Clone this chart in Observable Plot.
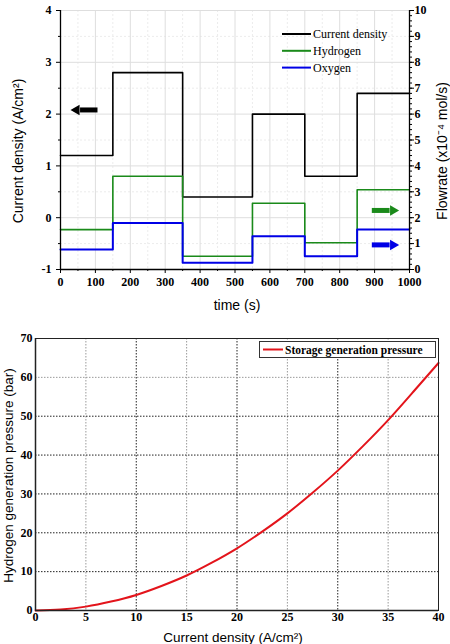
<!DOCTYPE html>
<html>
<head>
<meta charset="utf-8">
<script src="https://cdn.jsdelivr.net/npm/d3@7"></script>
<script src="https://cdn.jsdelivr.net/npm/@observablehq/plot@0.6"></script>
<style>
  body { margin: 0; background: #fff; }
  #page { position: relative; width: 450px; height: 644px; overflow: hidden; background: #fff; }
  #page > svg, #page > figure { position: absolute; left: 0; margin: 0; }
  .lg { position: absolute; }
</style>
</head>
<body>
<div id="page"></div>
<script>
// ---- Operating schedule: step changes of current density and gas flowrates ----
const stepTimes = [0, 150, 350, 550, 700, 850, 1000];        // s
const currentDensity = [1.2, 2.8, 0.4, 2.0, 0.8, 2.4];       // A/cm², left axis
const hydrogenFlow = [1.54, 3.6, 0.51, 2.56, 1.03, 3.08];    // x10^-4 mol/s, right axis
const oxygenFlow = [0.77, 1.8, 0.26, 1.28, 0.51, 1.54];      // x10^-4 mol/s, right axis

const timeTicks = [0, 100, 200, 300, 400, 500, 600, 700, 800, 900, 1000];
const timeMinorTicks = [50, 150, 250, 350, 450, 550, 650, 750, 850, 950];
const currentTicks = [-1, 0, 1, 2, 3, 4];
const currentMinorTicks = [-0.5, 0.5, 1.5, 2.5, 3.5];
const flowTicks = [0, 1, 2, 3, 4, 5, 6, 7, 8, 9, 10];

// Axis hint arrows: which axis each group of curves is read against
const hintArrows = [
  {series: "Current density", tail: 106, tip: 37, level: 2.08, axis: "left", color: "#000"},
  {series: "Hydrogen", tail: 892, tip: 962, level: 2.28, axis: "right", color: "#1a8a1a"},
  {series: "Oxygen", tail: 892, tip: 962, level: 0.95, axis: "right", color: "#0000e6"}
];

// ---- Storage pressure versus current density ----
const pressureCurrent = [0, 2.5, 5, 7.5, 10, 12.5, 15, 17.5, 20, 22.5, 25, 27.5, 30, 32.5, 35, 37.5, 40];
const pressureBar = [0, 0.25, 1.0, 2.3, 4.0, 6.3, 9.0, 12.3, 16.0, 20.3, 25.0, 30.3, 36.0, 42.3, 49.0, 56.3, 63.7];
const pressureTicksX = [0, 5, 10, 15, 20, 25, 30, 35, 40];
const pressureTicksY = [0, 10, 20, 30, 40, 50, 60, 70];

// The right-hand flowrate axis (0–10) shares the left scale (−1–4)
const flowToLeft = f => -1 + f / 2;
const leftToFlow = v => String(Math.round((v + 1) * 2));
const plain = d => String(d);

const steps = (values) => stepTimes.map((t, i) => ({t, v: values[Math.min(i, values.length - 1)]}));
const currentRows = steps(currentDensity);
const hydrogenRows = steps(hydrogenFlow).map(d => ({t: d.t, v: flowToLeft(d.v)}));
const oxygenRows = steps(oxygenFlow).map(d => ({t: d.t, v: flowToLeft(d.v)}));

const arrowRows = hintArrows.map(a => {
  const y = a.axis === "left" ? a.level : flowToLeft(a.level);
  const dir = Math.sign(a.tip - a.tail);
  return {...a, y, neck: a.tip - dir * 19, headAt: a.tip - dir * 9, rot: dir > 0 ? 90 : -90};
});

const serif = '"Liberation Serif", "Times New Roman", serif';
const sans = '"Liberation Sans", Arial, sans-serif';
const titleFont = {fontFamily: sans, fontWeight: "normal", textAnchor: "middle", lineAnchor: "middle"};

const page = document.getElementById("page");

// Bold serif numerals on every axis tick label
function serifTicks(svg, size) {
  d3.select(svg).selectAll('g[aria-label$="tick label"] text')
    .style("font-family", serif)
    .style("font-weight", "bold")
    .style("font-size", size + "px");
}

const topChart = Plot.plot({
  width: 450,
  height: 320,
  marginLeft: 60,
  marginRight: 41,
  marginTop: 10,
  marginBottom: 51,
  x: {domain: [0, 1000]},
  y: {domain: [-1, 4]},
  style: {color: "#000", background: "transparent", overflow: "visible"},
  marks: [
    Plot.gridX(timeMinorTicks, {stroke: "#ececec", strokeOpacity: 1, strokeDasharray: "2,2"}),
    Plot.gridY(currentMinorTicks, {stroke: "#ececec", strokeOpacity: 1, strokeDasharray: "2,2"}),
    Plot.gridX(timeTicks, {stroke: "#dedede", strokeOpacity: 1}),
    Plot.gridY(currentTicks, {stroke: "#dedede", strokeOpacity: 1}),
    Plot.line(currentRows, {x: "t", y: "v", curve: "step-after", stroke: "#000", strokeWidth: 1.6}),
    Plot.line(hydrogenRows, {x: "t", y: "v", curve: "step-after", stroke: "#1a8a1a", strokeWidth: 1.6}),
    Plot.line(oxygenRows, {x: "t", y: "v", curve: "step-after", stroke: "#0000e6", strokeWidth: 2}),
    Plot.link(arrowRows, {x1: "tail", x2: "neck", y1: "y", y2: "y", stroke: "color", strokeWidth: 5}),
    Plot.dot(arrowRows, {x: "headAt", y: "y", symbol: "triangle2", r: 5, fill: "color", stroke: null, rotate: "rot"}),
    Plot.ruleX([0], {stroke: "#000", strokeWidth: 1.3}),
    Plot.ruleX([1000], {stroke: "#000", strokeWidth: 1.3}),
    Plot.ruleY([-1], {stroke: "#000", strokeWidth: 1.3}),
    Plot.axisX(timeTicks, {tickSize: 4, tickPadding: 4, tickFormat: plain, label: null}),
    Plot.axisX(timeMinorTicks, {tickSize: 2, tickFormat: () => "", label: null}),
    Plot.axisY(currentTicks, {anchor: "left", tickSize: 4, tickPadding: 5, tickFormat: plain, label: null}),
    Plot.axisY(currentMinorTicks, {anchor: "left", tickSize: 2, tickFormat: () => "", label: null}),
    Plot.axisY(flowTicks.map(flowToLeft), {anchor: "right", tickSize: 4, tickPadding: 1, tickFormat: leftToFlow, label: null}),
    Plot.axisY(d3.range(0, 10.01, 0.2).map(flowToLeft), {anchor: "right", tickSize: 2, tickFormat: () => "", label: null}),
    Plot.text(["Current density (A/cm²)"], {frameAnchor: "left", dx: -42, dy: 11, rotate: -90, fontSize: 14, ...titleFont}),
    Plot.text(["Flowrate (x10⁻⁴ mol/s)"], {frameAnchor: "right", dx: 33, dy: 11, rotate: -90, fontSize: 14, ...titleFont}),
    Plot.text(["time (s)"], {frameAnchor: "bottom", dx: 2, dy: 36, fontSize: 14, ...titleFont})
  ]
});
topChart.style.top = "0px";
page.appendChild(topChart);
serifTicks(topChart, 12);

const pressureRows = pressureCurrent.map((c, i) => ({c, p: pressureBar[i]}));

const bottomChart = Plot.plot({
  width: 450,
  height: 324,
  marginLeft: 35,
  marginRight: 12,
  marginTop: 18,
  marginBottom: 34,
  x: {domain: [0, 40]},
  y: {domain: [0, 70]},
  style: {color: "#000", background: "transparent", overflow: "visible"},
  marks: [
    Plot.gridX([5, 15, 25, 35], {stroke: "#9a9a9a", strokeOpacity: 1, strokeDasharray: "1.5,1.5"}),
    Plot.gridX([10, 20, 30], {stroke: "#222", strokeOpacity: 1, strokeDasharray: "1.5,1.5"}),
    Plot.gridY([60], {stroke: "#9a9a9a", strokeOpacity: 1, strokeDasharray: "1.5,1.5"}),
    Plot.gridY([10, 20, 30, 40, 50], {stroke: "#222", strokeOpacity: 1, strokeDasharray: "1.5,1.5"}),
    Plot.line(pressureRows, {x: "c", y: "p", curve: "natural", stroke: "#e3141b", strokeWidth: 2}),
    Plot.frame({stroke: "#222", strokeWidth: 1}),
    Plot.ruleX([0], {stroke: "#222", strokeWidth: 1.5}),
    Plot.ruleY([0], {stroke: "#222", strokeWidth: 1.5}),
    Plot.axisX(pressureTicksX, {tickSize: 0, tickPadding: 2, tickFormat: plain, label: null}),
    Plot.axisY(pressureTicksY, {tickSize: 0, tickPadding: 3, tickFormat: plain, label: null}),
    Plot.text(["Current density (A/cm²)"], {frameAnchor: "bottom", dx: -4, dy: 27, fontSize: 13.5, ...titleFont}),
    Plot.text(["Hydrogen generation pressure (bar)"], {frameAnchor: "left", dx: -27, dy: 1, rotate: -90, fontSize: 13.5, ...titleFont})
  ]
});
bottomChart.style.top = "320px";
page.appendChild(bottomChart);
serifTicks(bottomChart, 12);

// Legends
const ns = "http://www.w3.org/2000/svg";
function legendSvg(left, top, w, h, items, opts) {
  const svg = document.createElementNS(ns, "svg");
  svg.setAttribute("width", w);
  svg.setAttribute("height", h);
  svg.setAttribute("class", "lg");
  svg.style.left = left + "px";
  svg.style.top = top + "px";
  if (opts.box) {
    const r = document.createElementNS(ns, "rect");
    r.setAttribute("x", 0.5); r.setAttribute("y", 0.5);
    r.setAttribute("width", w - 1); r.setAttribute("height", h - 1);
    r.setAttribute("fill", "#fff"); r.setAttribute("stroke", "#333");
    svg.appendChild(r);
  }
  items.forEach((it, i) => {
    const y = opts.y0 + i * opts.dy;
    const l = document.createElementNS(ns, "line");
    l.setAttribute("x1", opts.lx1); l.setAttribute("x2", opts.lx2);
    l.setAttribute("y1", y); l.setAttribute("y2", y);
    l.setAttribute("stroke", it.color); l.setAttribute("stroke-width", opts.sw);
    svg.appendChild(l);
    const t = document.createElementNS(ns, "text");
    t.setAttribute("x", opts.tx); t.setAttribute("y", y);
    t.setAttribute("dy", "0.35em");
    t.setAttribute("font-family", serif);
    t.setAttribute("font-size", opts.fs);
    t.setAttribute("font-weight", opts.fw);
    t.textContent = it.label;
    svg.appendChild(t);
  });
  page.appendChild(svg);
}

legendSvg(280, 24, 130, 52, [
  {label: "Current density", color: "#000"},
  {label: "Hydrogen", color: "#1a8a1a"},
  {label: "Oxygen", color: "#0000e6"}
], {y0: 10, dy: 16.8, lx1: 2, lx2: 31, tx: 33, fs: 12, fw: "normal", sw: 2});

legendSvg(259, 341, 177, 17, [
  {label: "Storage generation pressure", color: "#e3141b"}
], {box: true, y0: 8.5, dy: 0, lx1: 4, lx2: 24, tx: 26, fs: 11.5, fw: "bold", sw: 2});
</script>
</body>
</html>
